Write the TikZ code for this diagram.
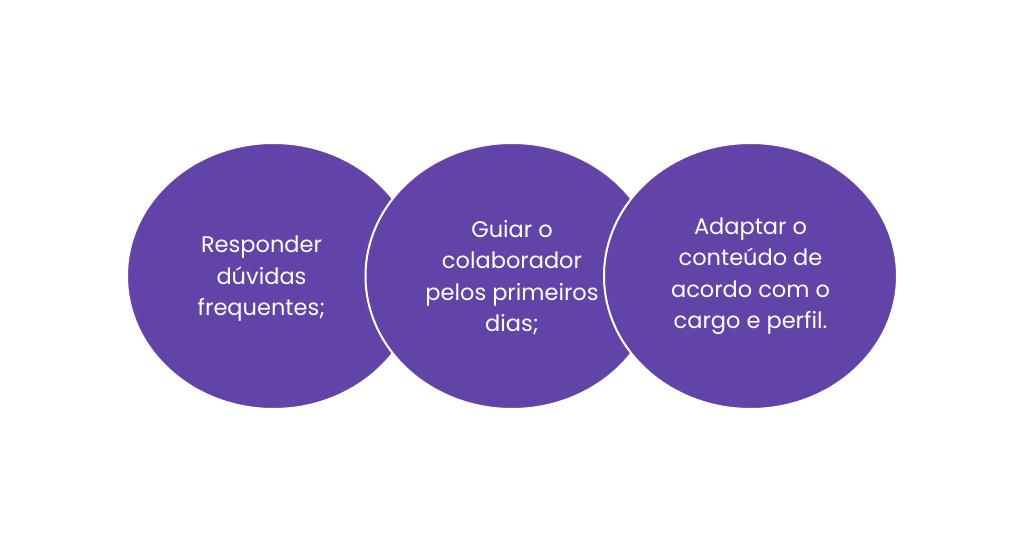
\documentclass[tikz,border=0pt]{standalone}
\usepackage{fontspec}
\setmainfont{Poppins}
\usepackage{tikz}
\usetikzlibrary{shapes.geometric,positioning}
\definecolor{roxo}{RGB}{98,68,168}
\tikzset{
	bolha/.style={ellipse, fill=roxo, draw=white, line width=2pt, minimum width=293pt, minimum height=266pt, inner sep=0pt},
	texto/.style={text=white, align=center, font=\fontsize{22.5}{31.5}\selectfont}
}
\begin{document}
\begin{tikzpicture}[x=1pt,y=-1pt]
				\useasboundingbox (0,0) rectangle (1024,553);
				\node[bolha] (b1) at (273.5,276) {};
				\node[bolha] (b2) at (512,276) {};
				\node[bolha] (b3) at (750.5,276) {};
				\node[texto] (t1) at ([xshift=-12pt,yshift=-3pt]b1.center) {Responder\\dúvidas\\frequentes;};
				\node[texto] (t2) at ([yshift=-1.5pt]b2.center) {Guiar o\\colaborador\\pelos primeiros\\dias;};
				\node[texto] (t3) at (b3.center) {Adaptar o\\conteúdo de\\acordo com o\\cargo e perfil.};
				\end{tikzpicture}
\end{document}
